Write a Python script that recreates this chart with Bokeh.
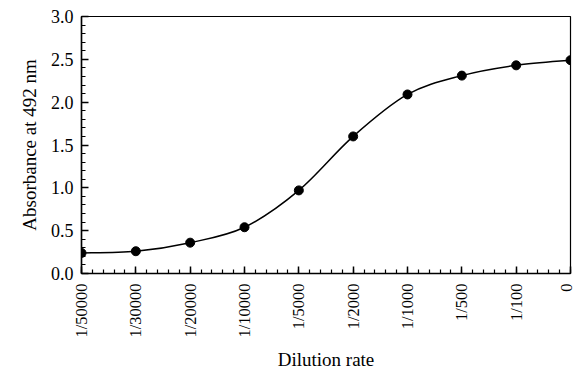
import math
import numpy as np
from bokeh.plotting import figure
from bokeh.models import FixedTicker, Range1d, NumeralTickFormatter
from bokeh.embed import file_html
from bokeh.resources import INLINE

dilutions = ["1/50000", "1/30000", "1/20000", "1/10000", "1/5000",
             "1/2000", "1/1000", "1/500", "1/100", "0"]
absorbance = [0.24, 0.26, 0.36, 0.54, 0.97, 1.60, 2.09, 2.31, 2.43, 2.49]
y_ticks = [0.0, 0.5, 1.0, 1.5, 2.0, 2.5, 3.0]

x = np.arange(len(dilutions), dtype=float)
y = np.array(absorbance)

p = figure(width=575, height=372, output_backend="svg", toolbar_location=None,
           x_range=Range1d(0, len(dilutions) - 1), y_range=Range1d(0, 3.0),
           min_border_left=81, min_border_right=5, min_border_top=16,
           min_border_bottom=99)
p.grid.visible = False
p.outline_line_color = "black"
p.outline_line_width = 1.2
p.background_fill_color = "white"
p.border_fill_color = "white"

# smooth curve: Catmull-Rom style bezier segments between data points
n = len(x)
x0, y0, x1, y1, cx0, cy0, cx1, cy1 = [], [], [], [], [], [], [], []
for i in range(n - 1):
    xa, ya = x[i], y[i]
    xb, yb = x[i + 1], y[i + 1]
    xp, yp = (x[i - 1], y[i - 1]) if i > 0 else (xa, ya)
    xn, yn = (x[i + 2], y[i + 2]) if i + 2 < n else (xb, yb)
    x0.append(xa); y0.append(ya); x1.append(xb); y1.append(yb)
    cx0.append(xa + (xb - xp) / 6); cy0.append(ya + (yb - yp) / 6)
    cx1.append(xb - (xn - xa) / 6); cy1.append(yb - (yn - ya) / 6)
p.bezier(x0=x0, y0=y0, x1=x1, y1=y1, cx0=cx0, cy0=cy0, cx1=cx1, cy1=cy1,
         line_color="black", line_width=1.5)
p.scatter(x, y, size=9, color="black")

font = "Liberation Serif"
p.xaxis.ticker = FixedTicker(ticks=list(x),
                             minor_ticks=list(np.arange(0, n - 1 + 1e-9, 0.2)))
p.xaxis.major_label_overrides = {float(i): d for i, d in enumerate(dilutions)}
p.xaxis.major_label_orientation = math.pi / 2
p.yaxis.ticker = FixedTicker(ticks=y_ticks,
                             minor_ticks=list(np.arange(0, 3.0001, 0.1)))
p.yaxis.formatter = NumeralTickFormatter(format="0.0")

for ax in (p.xaxis, p.yaxis):
    ax.major_tick_in = 7
    ax.major_tick_out = 0
    ax.minor_tick_in = 4
    ax.minor_tick_out = 0
    ax.axis_line_color = "black"
    ax.axis_line_width = 1.5
    ax.major_tick_line_color = "black"
    ax.major_tick_line_width = 1.5
    ax.minor_tick_line_color = "black"
    ax.minor_tick_line_width = 1.2
    ax.major_label_text_font = font
    ax.major_label_text_color = "black"
    ax.axis_label_text_font = font
    ax.axis_label_text_font_size = "19px"
    ax.axis_label_text_font_style = "normal"
    ax.axis_label_text_color = "black"

p.yaxis.major_label_text_font_size = "18px"
p.xaxis.major_label_text_font_size = "16.5px"
p.xaxis.axis_label = "Dilution rate"
p.yaxis.axis_label = "Absorbance at 492 nm"
p.xaxis.major_label_standoff = 10
p.yaxis.major_label_standoff = 8
p.xaxis.axis_label_standoff = 8
p.yaxis.axis_label_standoff = 8

open("out.html", "w").write(file_html(p, INLINE))
